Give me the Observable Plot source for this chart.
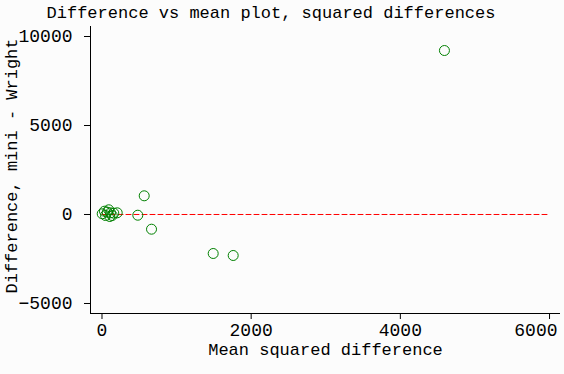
<!DOCTYPE html>
<html>
<head>
<meta charset="utf-8">
<script src="https://cdn.jsdelivr.net/npm/d3@7"></script>
<script src="https://cdn.jsdelivr.net/npm/@observablehq/plot@0.6"></script>
<style>
  html, body { margin: 0; padding: 0; background: #fcfcfc; }
  #title {
    width: 542px; height: 26px; line-height: 26px; padding-top: 1px; box-sizing: border-box;
    font-family: "Liberation Mono", monospace; font-size: 17px; color: #000;
    text-align: center; white-space: nowrap;
  }
  #chart svg { display: block; overflow: visible; }
  #chart svg g[aria-label*="tick label"],
  #chart svg g[aria-label*="tick label"] text { font-size: 18px !important; font-family: "Liberation Mono", monospace !important; }
</style>
</head>
<body>
<div id="title">Difference vs mean plot, squared differences</div>
<div id="chart"></div>
<script>
// Mean squared difference (x) and difference mini - Wright (y)
const meanSquared = [3, 33, 47, 70, 91, 105, 114, 137, 158, 204, 480, 566, 664, 1491, 1759, 4591];
const difference  = [40, 185, -56, 130, 265, -112, 95, -56, 75, 95, -40, 1050, -826, -2191, -2303, 9213];

const xTicks = [0, 2000, 4000, 6000];
const yTicks = [-5000, 0, 5000, 10000];
const xDomain = [-154, 6147];
const yDomain = [-5562, 10562];
const refLineX = [0, 6000];
const refLineY = [0, 0];

const xLabel = "Mean squared difference";
const yLabel = "Difference, mini - Wright";

const points = meanSquared.map((x, i) => ({x, y: difference[i]}));
const refLine = refLineX.map((x, i) => ({x, y: refLineY[i]}));
const lastX = xTicks[xTicks.length - 1];

const chart = Plot.plot({
  width: 564,
  height: 348,
  marginTop: 0,
  marginLeft: 90,
  marginRight: 4,
  marginBottom: 61,
  style: { fontFamily: "'Liberation Mono', monospace", fontSize: "18px", background: "#fcfcfc", color: "#000", overflow: "visible" },
  x: { domain: xDomain, ticks: xTicks },
  y: { domain: yDomain, ticks: yTicks },
  marks: [
    Plot.ruleX([xDomain[0]], { stroke: "#000", strokeWidth: 1 }),
    Plot.ruleY([yDomain[0]], { stroke: "#000", strokeWidth: 1 }),
    Plot.axisX({ ticks: xTicks, tickSize: 6, tickPadding: 4, fontSize: 18, label: null,
                 tickFormat: d => d === lastX ? "" : String(d) }),
    Plot.axisX({ ticks: [lastX], tickSize: 0, tickPadding: 10, fontSize: 18, label: null,
                 textAnchor: "end", dx: 8, tickFormat: d => String(d) }),
    Plot.axisY({ ticks: yTicks, tickSize: 6, tickPadding: 12, fontSize: 18, label: null,
                 tickFormat: d => d < 0 ? "\u2212" + String(-d) : String(d) }),
    Plot.line(refLine, { x: "x", y: "y", stroke: "#ff0000", strokeWidth: 1, strokeDasharray: "5,3" }),
    Plot.dot(points, { x: "x", y: "y", r: 5, stroke: "#008000", strokeWidth: 1, fill: "none" }),
    Plot.text([xLabel], { frameAnchor: "bottom", text: d => d, dy: 41, fontSize: 17 }),
    Plot.text([yLabel], { frameAnchor: "left", textAnchor: "middle", text: d => d, rotate: -90, dx: -79, dy: -4, fontSize: 17 })
  ]
});
document.getElementById("chart").appendChild(chart);
</script>
</body>
</html>
